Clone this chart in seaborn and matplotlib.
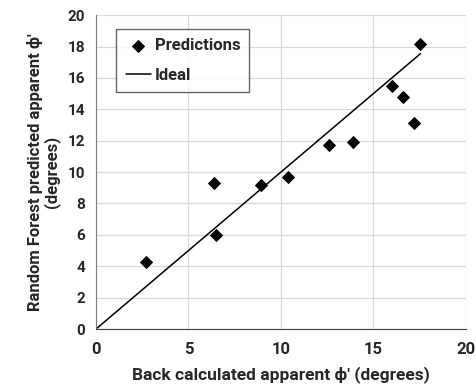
import matplotlib
matplotlib.use("Agg")
import matplotlib.pyplot as plt
import seaborn as sns
import pandas as pd

back_calc = [2.7, 6.4, 6.5, 8.9, 10.4, 12.6, 13.9, 16.0, 16.6, 17.2, 17.5]
rf_pred = [4.3, 9.3, 6.0, 9.2, 9.7, 11.7, 11.9, 15.5, 14.8, 13.1, 18.15]
ideal_x = [0, 17.55]
ideal_y = [0, 17.55]

x_ticks = [0, 5, 10, 15, 20]
y_ticks = [0, 2, 4, 6, 8, 10, 12, 14, 16, 18, 20]

sns.set_style("white")
plt.rcParams['font.family'] = ['Roboto', 'DejaVu Sans']
plt.rcParams['font.weight'] = 'bold'

fig = plt.figure(figsize=(4.76, 3.88), dpi=100)
ax = fig.add_axes([0.2017, 0.152, 0.777, 0.809])

df = pd.DataFrame({"x": back_calc, "y": rf_pred})
dl = pd.DataFrame({"x": ideal_x, "y": ideal_y})

sns.lineplot(data=dl, x="x", y="y", ax=ax, color="black", linewidth=1.1, label="Ideal", zorder=2)
sns.scatterplot(data=df, x="x", y="y", ax=ax, marker="D", s=46, color="black",
                edgecolor="black", linewidth=0, label="Predictions", zorder=3)

ax.set_xlim(0, 20)
ax.set_ylim(0, 20)
ax.set_xticks(x_ticks)
ax.set_yticks(y_ticks)
ax.grid(True, color="#d9d9d9", linewidth=0.9)
ax.set_axisbelow(True)
for s in ["top", "right"]:
    ax.spines[s].set_visible(False)
ax.spines["left"].set_color("#7f7f7f")
ax.spines["bottom"].set_color("#404040")
ax.tick_params(axis="x", length=0, labelsize=12, pad=9)
ax.tick_params(axis="y", length=0, labelsize=11, pad=8)
for lab in ax.get_xticklabels() + ax.get_yticklabels():
    lab.set_fontweight("bold")

ax.set_xlabel("Back calculated apparent ϕ' (degrees)", fontsize=12.5, fontweight="bold", labelpad=7)
ax.set_ylabel("Random Forest predicted apparent ϕ'\n(degrees)", fontsize=12, fontweight="bold",
              labelpad=5, linespacing=1.0)

handles, labels = ax.get_legend_handles_labels()
order = [labels.index("Predictions"), labels.index("Ideal")]
leg = ax.legend([handles[i] for i in order], [labels[i] for i in order],
                loc="upper left", bbox_to_anchor=(0.055, 0.955), frameon=True, fancybox=False,
                edgecolor="#404040", prop={"weight": "bold", "size": 12},
                handlelength=1.5, handletextpad=0.25, borderpad=0.55, labelspacing=0.85,
                borderaxespad=0)
leg.get_frame().set_linewidth(1.0)

fig.savefig("out.png", dpi=100)
